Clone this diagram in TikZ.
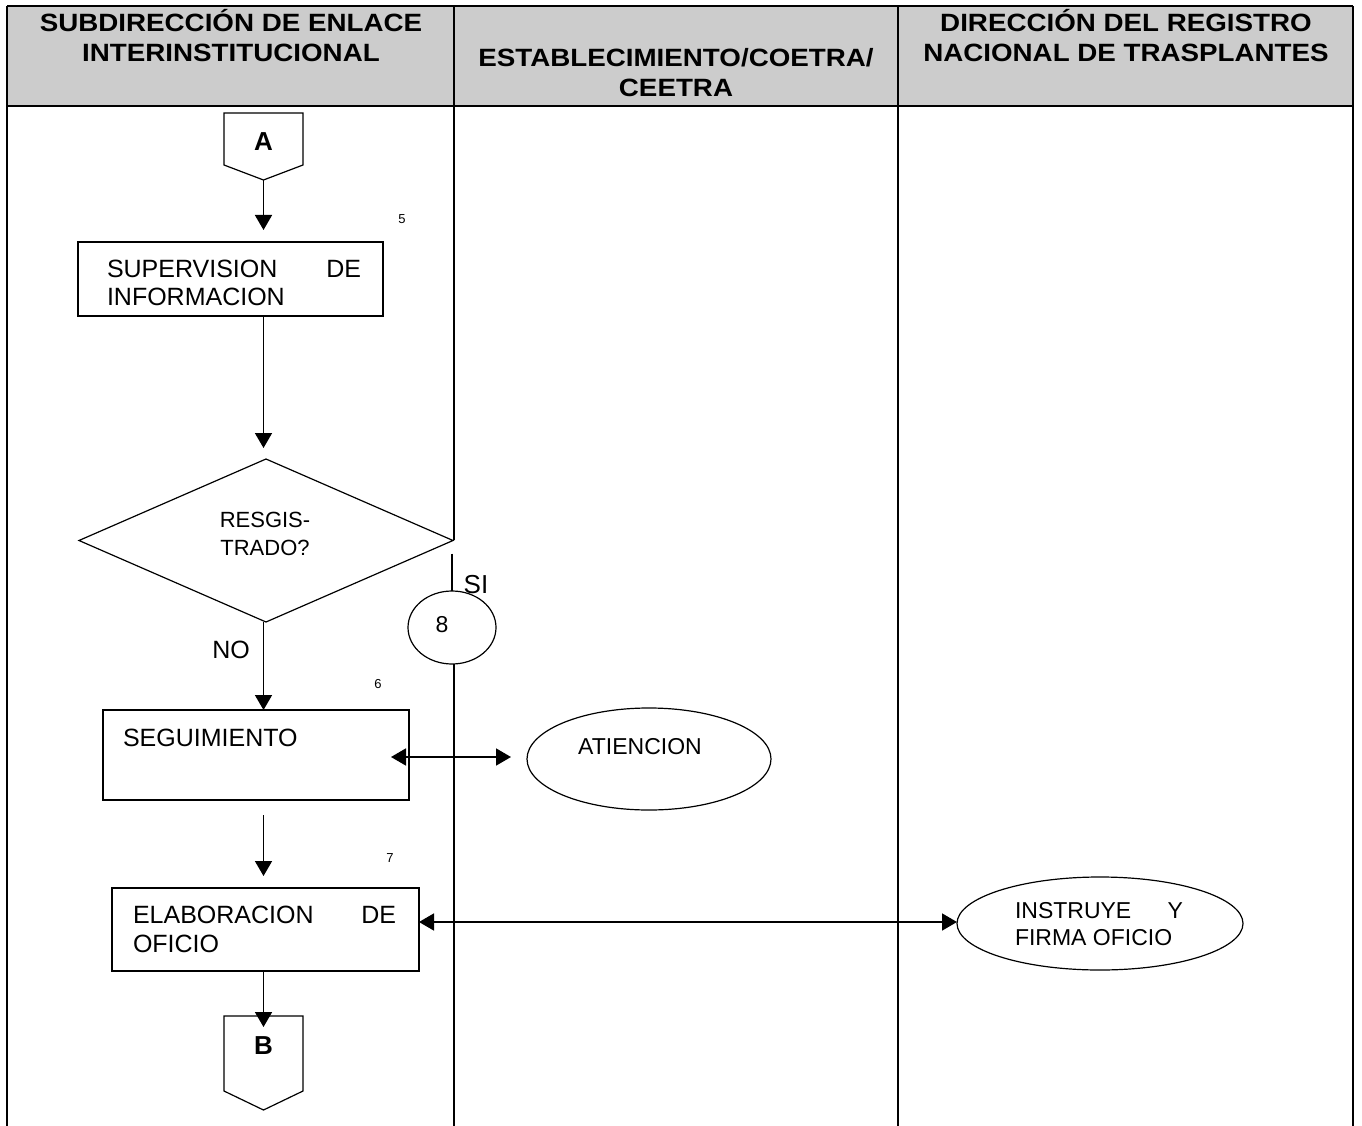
\documentclass[tikz,border=0pt]{standalone}
\usepackage{fontspec}
\setmainfont{Liberation Sans}
\newfontfamily\headfont[FakeStretch=1.11]{Liberation Sans}
\usetikzlibrary{shapes.geometric,arrows.meta,calc}

\begin{document}
\begin{tikzpicture}[x=1pt,y=-1pt,
  every node/.style={inner sep=0pt,outer sep=0pt},
  frame/.style={line width=2.2pt},
  shapeline/.style={line width=1.2pt},
  arr/.style={line width=1.7pt,-{Triangle[length=15pt,width=17pt]}},
  dbl/.style={line width=1.7pt,{Triangle[length=15pt,width=17pt]}-{Triangle[length=15pt,width=17pt]}},
  hd/.style={font=\headfont\bfseries\fontsize{25}{30}\selectfont,anchor=base},
  txt/.style={font=\fontsize{25}{29}\selectfont,anchor=base west},
  smalltxt/.style={font=\fontsize{23}{27}\selectfont},
  stepnum/.style={font=\fontsize{13}{15}\selectfont,anchor=base},
  procbox/.style={shapeline,draw,rectangle,fill=white},
  oval/.style={shapeline,draw,ellipse,fill=white},
  decision/.style={shapeline,draw,diamond,fill=white},
]
\useasboundingbox (0,0) rectangle (1362,1126);

% ---- table: header band and swimlane borders ----
\fill[gray!40] (7,6) rectangle (1353,106);
\draw[frame] (7,6) -- (1353,6);
\draw[frame] (7,106) -- (1353,106);
\draw[frame] (7,6) -- (7,1126);
\draw[frame] (1353,6) -- (1353,1126);
\draw[frame] (898,6) -- (898,1126);
\draw[frame] (454,6) -- (454,106);

\node[hd] (h1a) at (231,32) {SUBDIRECCIÓN DE ENLACE};
\node[hd] (h1b) at (231,62) {INTERINSTITUCIONAL};
\node[hd] (h2a) at (676,67) {ESTABLECIMIENTO/COETRA/};
\node[hd] (h2b) at (676,97) {CEETRA};
\node[hd] (h3a) at (1126,32) {DIRECCIÓN DEL REGISTRO};
\node[hd] (h3b) at (1126,62) {NACIONAL DE TRASPLANTES};

% ---- off-page connector A ----
\node[minimum width=79pt,minimum height=52pt] (Abox) at (263.5,139) {};
\coordinate (Atip) at ([yshift=-15pt]Abox.south);
\draw[shapeline] (Abox.north west) -- (Abox.north east) -- (Abox.south east)
  -- (Atip) -- (Abox.south west) -- cycle;
\node[font=\bfseries\fontsize{26}{30}\selectfont,anchor=base] (Alabel) at (263.5,151) {A};

% ---- process steps ----
\node[procbox,minimum width=305pt,minimum height=74pt] (sup) at (230.5,279) {};
\node[txt] (sup1) at (107,277) {\makebox[254pt][s]{SUPERVISION DE}};
\node[txt] (sup2) at (107,305) {INFORMACION};
\node[stepnum] (n5) at (402,223) {5};

\node[decision,minimum width=374pt,minimum height=163pt] (dia) at (266,540.5) {};
\node[font=\fontsize{22}{26}\selectfont,anchor=base] (dia1) at (265,527) {RESGIS-};
\node[font=\fontsize{22}{26}\selectfont,anchor=base] (dia2) at (265,555) {TRADO?};

% lane divider, interrupted by the on-page connector 8
\draw[frame] (454,106) -- (454,540);
\node[oval,minimum width=88pt,minimum height=73pt] (c8) at (452,627.5) {};
\draw[frame] (454,664) -- (454,1126);
\node[smalltxt,anchor=base] (c8t) at (442,632) {8};
\draw[shapeline,line width=1.5pt] ([yshift=-13pt]c8.north |- dia.east) -- (c8.north);
\node[font=\fontsize{26}{30}\selectfont,anchor=base] (si) at (476,593) {SI};
\node[font=\fontsize{25}{29}\selectfont,anchor=base] (no) at (231,658) {NO};

\node[procbox,minimum width=306pt,minimum height=90pt] (seg) at (256,755) {};
\node[txt] (segt) at (123,746) {SEGUIMIENTO};
\node[stepnum] (n6) at (378,688) {6};

\node[oval,minimum width=244pt,minimum height=102pt] (atn) at (649,759) {};
\node[smalltxt,anchor=base] (atnt) at (640,754) {ATIENCION};

\node[procbox,minimum width=307pt,minimum height=83pt] (elab) at (265.5,929.5) {};
\node[txt] (elab1) at (133,923) {\makebox[263pt][s]{ELABORACION DE}};
\node[txt] (elab2) at (133,952) {OFICIO};
\node[stepnum] (n7) at (390,862) {7};

\node[oval,minimum width=286pt,minimum height=93pt] (ins) at (1100,923.5) {};
\node[smalltxt,anchor=base west] (ins1) at (1015,918) {\makebox[168pt][s]{INSTRUYE Y}};
\node[smalltxt,anchor=base west] (ins2) at (1015,945) {FIRMA OFICIO};

% ---- off-page connector B ----
\node[minimum width=79pt,minimum height=75pt] (Bbox) at (263.5,1053.5) {};
\draw[shapeline] (Bbox.north west) -- (Bbox.north east) -- (Bbox.south east)
  -- ([yshift=-19pt]Bbox.south) -- (Bbox.south west) -- cycle;
\node[font=\bfseries\fontsize{26}{30}\selectfont,anchor=base] (Blabel) at (263.5,1054) {B};

% ---- flow connectors ----
\draw[arr] (Atip) -- ([yshift=12pt]Atip |- sup.north);
\draw[arr] (Atip |- sup.south) -- ([yshift=11pt]Atip |- dia.north);
\draw[arr] (Atip |- dia.south) -- (Atip |- seg.north);
\draw[arr] ([yshift=-15pt]Atip |- seg.south) -- ([yshift=12pt]Atip |- elab.north);
\draw[arr] (Atip |- elab.south) -- ([yshift=-11pt]Atip |- Bbox.north);

\coordinate (s1) at ([shift={(-18pt,-2pt)}]seg.east);
\draw[dbl] (s1) -- ([xshift=-16pt]atn.west |- s1);
\coordinate (e1) at ([yshift=7.5pt]elab.east);
\draw[dbl] (e1) -- (ins.west |- e1);
\end{tikzpicture}
\end{document}
